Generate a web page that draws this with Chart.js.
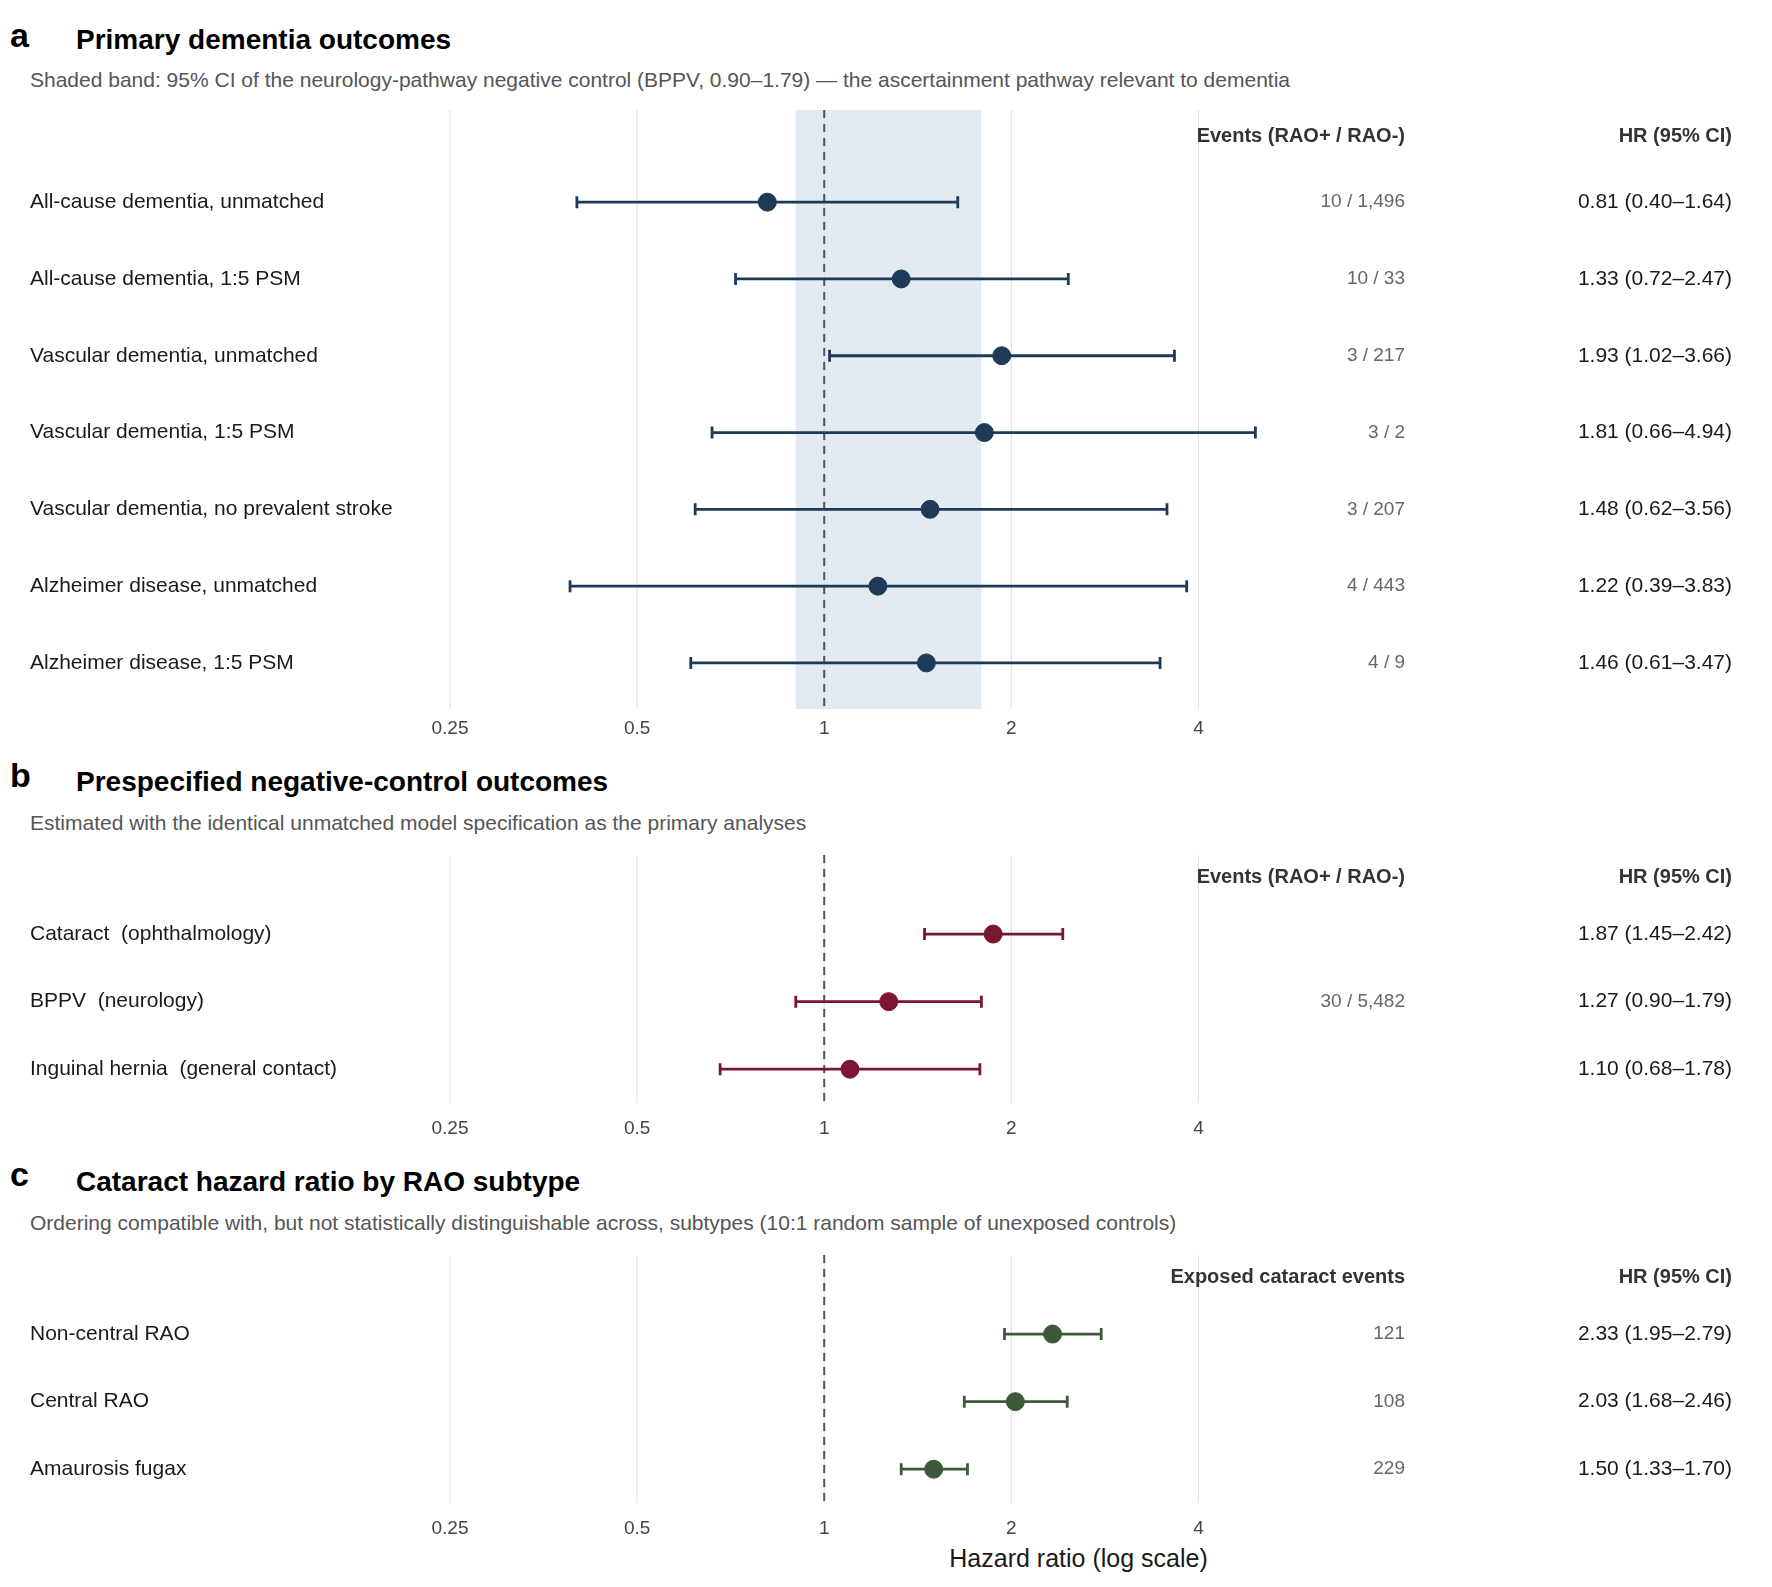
<!DOCTYPE html>
<html>
<head>
<meta charset="utf-8">
<script src="https://cdn.jsdelivr.net/npm/chart.js@4"></script>
<style>
  body { margin: 0; background: #fff; font-family: "Liberation Sans", Arial, sans-serif; }
  #page { position: relative; width: 1772px; height: 1587px; }
  canvas { position: absolute; left: 0; }
  .letter { position: absolute; left: 10px; font-size: 34px; font-weight: bold; color: #000; }
  .title { position: absolute; left: 76px; font-size: 28px; font-weight: bold; color: #000; }
  .sub { position: absolute; left: 30px; font-size: 21px; color: #555; }
  .xlab { position: absolute; left: 0; width: 2156px; text-align: center; font-size: 25px; color: #1a1a1a; }
</style>
</head>
<body>
<div id="page">
  <div class="letter" style="top:16px">a</div>
  <div class="title" style="top:24px">Primary dementia outcomes</div>
  <div class="sub" style="top:68px">Shaded band: 95% CI of the neurology-pathway negative control (BPPV, 0.90–1.79) — the ascertainment pathway relevant to dementia</div>
  <div class="letter" style="top:756px">b</div>
  <div class="title" style="top:766px">Prespecified negative-control outcomes</div>
  <div class="sub" style="top:811px">Estimated with the identical unmatched model specification as the primary analyses</div>
  <div class="letter" style="top:1155px">c</div>
  <div class="title" style="top:1166px">Cataract hazard ratio by RAO subtype</div>
  <div class="sub" style="top:1211px">Ordering compatible with, but not statistically distinguishable across, subtypes (10:1 random sample of unexposed controls)</div>
  <div class="xlab" style="top:1544px;width:2157px">Hazard ratio (log scale)</div>
  <canvas id="chartA" width="1772" height="760" style="top:0px"></canvas>
  <canvas id="chartB" width="1772" height="400" style="top:760px"></canvas>
  <canvas id="chartC" width="1772" height="420" style="top:1160px"></canvas>
</div>
<script>
// Panel a: primary dementia outcomes
const labelsA = ["All-cause dementia, unmatched", "All-cause dementia, 1:5 PSM", "Vascular dementia, unmatched",
  "Vascular dementia, 1:5 PSM", "Vascular dementia, no prevalent stroke", "Alzheimer disease, unmatched", "Alzheimer disease, 1:5 PSM"];
const hrA = [0.81, 1.33, 1.93, 1.81, 1.48, 1.22, 1.46];
const lowA = [0.40, 0.72, 1.02, 0.66, 0.62, 0.39, 0.61];
const highA = [1.64, 2.47, 3.66, 4.94, 3.56, 3.83, 3.47];
const eventsA = ["10 / 1,496", "10 / 33", "3 / 217", "3 / 2", "3 / 207", "4 / 443", "4 / 9"];

// Panel b: negative controls
const labelsB = ["Cataract  (ophthalmology)", "BPPV  (neurology)", "Inguinal hernia  (general contact)"];
const hrB = [1.87, 1.27, 1.10];
const lowB = [1.45, 0.90, 0.68];
const highB = [2.42, 1.79, 1.78];
const eventsB = ["", "30 / 5,482", ""];

// Panel c: cataract by RAO subtype
const labelsC = ["Non-central RAO", "Central RAO", "Amaurosis fugax"];
const hrC = [2.33, 2.03, 1.50];
const lowC = [1.95, 1.68, 1.33];
const highC = [2.79, 2.46, 1.70];
const eventsC = ["121", "108", "229"];

const tickValues = [0.25, 0.5, 1, 2, 4];
const bandA = [0.90, 1.79];

const fmt = v => v.toFixed(2);

function forest(id, cfg) {
  const n = cfg.labels.length;
  const plugin = {
    id: "forest",
    beforeDatasetsDraw(chart) {
      const { ctx, chartArea: a, scales: { x, y } } = chart;
      ctx.save();
      ctx.strokeStyle = "#e3e3e3";
      ctx.lineWidth = 1.2;
      tickValues.forEach(t => {
        const px = x.getPixelForValue(t);
        ctx.beginPath(); ctx.moveTo(px, a.top); ctx.lineTo(px, a.bottom); ctx.stroke();
      });
      if (cfg.band) {
        ctx.fillStyle = "rgba(200,214,228,0.5)";
        const x0 = x.getPixelForValue(cfg.band[0]), x1 = x.getPixelForValue(cfg.band[1]);
        ctx.fillRect(x0, a.top, x1 - x0, a.bottom - a.top);
      }
      ctx.strokeStyle = "#555";
      ctx.lineWidth = 2;
      ctx.setLineDash([8, 6]);
      const p1 = x.getPixelForValue(1);
      ctx.beginPath(); ctx.moveTo(p1, a.top); ctx.lineTo(p1, a.bottom); ctx.stroke();
      ctx.setLineDash([]);
      // error bars
      ctx.strokeStyle = cfg.color;
      ctx.lineWidth = 2.8;
      for (let i = 0; i < n; i++) {
        const py = y.getPixelForValue(i);
        const l = x.getPixelForValue(cfg.low[i]), h = x.getPixelForValue(cfg.high[i]);
        ctx.beginPath();
        ctx.moveTo(l, py); ctx.lineTo(h, py);
        ctx.moveTo(l, py - 6); ctx.lineTo(l, py + 6);
        ctx.moveTo(h, py - 6); ctx.lineTo(h, py + 6);
        ctx.stroke();
      }
      // tick labels
      ctx.fillStyle = "#444";
      ctx.font = "19px 'Liberation Sans', Arial";
      ctx.textAlign = "center";
      ctx.textBaseline = "middle";
      tickValues.forEach(t => ctx.fillText(String(t), x.getPixelForValue(t), a.bottom + cfg.tickGap));
      // text columns
      ctx.textAlign = "left";
      ctx.fillStyle = "#1a1a1a";
      ctx.font = "21px 'Liberation Sans', Arial";
      for (let i = 0; i < n; i++) ctx.fillText(cfg.labels[i], 30, y.getPixelForValue(i));
      ctx.textAlign = "right";
      ctx.font = "bold 20px 'Liberation Sans', Arial";
      ctx.fillStyle = "#333";
      const hy = y.getPixelForValue(cfg.headerRow);
      ctx.fillText(cfg.eventsHeader, 1405, hy);
      ctx.fillText("HR (95% CI)", 1732, hy);
      ctx.font = "19px 'Liberation Sans', Arial";
      ctx.fillStyle = "#666";
      for (let i = 0; i < n; i++) ctx.fillText(cfg.events[i], 1405, y.getPixelForValue(i));
      ctx.font = "21px 'Liberation Sans', Arial";
      ctx.fillStyle = "#1a1a1a";
      for (let i = 0; i < n; i++)
        ctx.fillText(fmt(cfg.hr[i]) + " (" + fmt(cfg.low[i]) + "–" + fmt(cfg.high[i]) + ")", 1732, y.getPixelForValue(i));
      ctx.restore();
    }
  };
  return new Chart(document.getElementById(id), {
    type: "scatter",
    data: {
      datasets: [{
        data: cfg.hr.map((v, i) => ({ x: v, y: i })),
        backgroundColor: cfg.color,
        borderColor: cfg.color,
        pointRadius: 9,
        pointHoverRadius: 9
      }]
    },
    options: {
      responsive: false,
      animation: false,
      devicePixelRatio: 1,
      layout: { padding: { left: 450, right: 480, top: cfg.top, bottom: cfg.bottom } },
      plugins: { legend: { display: false }, tooltip: { enabled: false } },
      scales: {
        x: { type: "logarithmic", min: 0.25, max: Math.pow(2, 2.5), display: false },
        y: { type: "linear", reverse: true, min: cfg.ymin, max: cfg.ymax, display: false }
      }
    },
    plugins: [plugin]
  });
}

forest("chartA", {
  labels: labelsA, hr: hrA, low: lowA, high: highA, events: eventsA, band: bandA,
  color: "#1f3a57", eventsHeader: "Events (RAO+ / RAO-)", headerRow: -0.85,
  top: 110, bottom: 760 - 709, ymin: -1.2, ymax: 6.6, tickGap: 20
});
forest("chartB", {
  labels: labelsB, hr: hrB, low: lowB, high: highB, events: eventsB,
  color: "#7a1630", eventsHeader: "Events (RAO+ / RAO-)", headerRow: -0.83,
  top: 855 - 760, bottom: 400 - (1103 - 760), ymin: -1.17, ymax: 2.5, tickGap: 26
});
forest("chartC", {
  labels: labelsC, hr: hrC, low: lowC, high: highC, events: eventsC,
  color: "#3c5a3a", eventsHeader: "Exposed cataract events", headerRow: -0.84,
  top: 1255 - 1160, bottom: 420 - (1503 - 1160), ymin: -1.17, ymax: 2.5, tickGap: 26
});
</script>
</body>
</html>
